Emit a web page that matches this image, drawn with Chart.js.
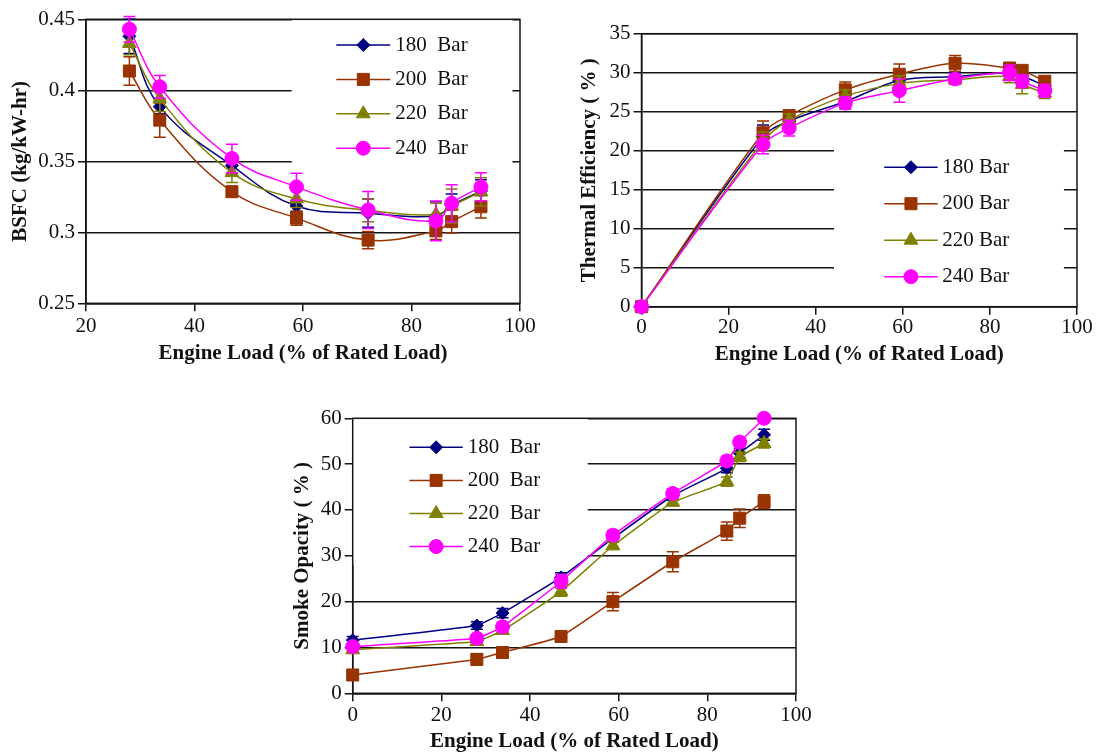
<!DOCTYPE html>
<html><head><meta charset="utf-8">
<script src="https://cdn.jsdelivr.net/npm/chart.js"></script>
<style>
html,body{margin:0;padding:0;background:#fff;}
#wrap{position:relative;width:1101px;height:756px;overflow:hidden;background:#fff;}
canvas{position:absolute;}
</style></head><body>
<div id="wrap">
<canvas id="c1" width="550" height="370" style="left:0px;top:0px;width:550px;height:370px"></canvas>
<canvas id="c2" width="541" height="370" style="left:560px;top:0px;width:541px;height:370px"></canvas>
<canvas id="c3" width="541" height="361" style="left:280px;top:395px;width:541px;height:361px"></canvas>
</div>
<script>
// ---------- DATA ----------
const seriesNames = ['180 Bar', '200 Bar', '220 Bar', '240 Bar'];
const legendWide = ['180  Bar', '200  Bar', '220  Bar', '240  Bar'];
const legendNarrow = ['180 Bar', '200 Bar', '220 Bar', '240 Bar'];

// BSFC
const loadBSFC = [28.0, 33.6, 46.9, 58.8, 72.0, 84.5, 87.4, 92.8];
const bsfc180 = [0.438, 0.3885, 0.347, 0.3185, 0.3135, 0.3115, 0.319, 0.329];
const bsfc200 = [0.4136, 0.379, 0.3286, 0.310, 0.2945, 0.301, 0.3075, 0.318];
const bsfc220 = [0.433, 0.394, 0.342, 0.3235, 0.3155, 0.3125, 0.3185, 0.3285];
const bsfc240 = [0.443, 0.4025, 0.352, 0.332, 0.3157, 0.308, 0.3204, 0.332];
const bsfcErr180 = [0.012, 0.005, 0.006, 0.004, 0.010, 0.010, 0.008, 0.008];
const bsfcErr200 = [0.010, 0.012, 0.003, 0.005, 0.006, 0.006, 0.008, 0.008];
const bsfcErr220 = [0.008, 0.009, 0.007, 0.006, 0.008, 0.008, 0.012, 0.010];
const bsfcErr240 = [0.009, 0.008, 0.010, 0.0095, 0.013, 0.014, 0.013, 0.010];
const bsfcXTicks = [20, 40, 60, 80, 100];
const bsfcYTicks = [0.25, 0.3, 0.35, 0.4, 0.45];

// Thermal efficiency
const loadTE = [0, 27.9, 33.9, 46.8, 59.2, 72.0, 84.5, 87.4, 92.6];
const te180 = [0, 21.8, 23.8, 26.3, 29.0, 29.5, 30.0, 29.6, 28.3];
const te200 = [0, 22.3, 24.5, 27.8, 29.8, 31.2, 30.6, 30.3, 28.9];
const te220 = [0, 21.2, 23.9, 27.0, 28.6, 29.1, 29.5, 28.5, 27.4];
const te240 = [0, 20.8, 22.9, 26.1, 27.7, 29.2, 30.0, 28.9, 27.7];
const teErr180 = [0, 1.5, 0.5, 0.8, 0.5, 0.5, 0.5, 0.5, 0.5];
const teErr200 = [0, 1.5, 0.5, 1.0, 1.3, 1.0, 0.5, 0.5, 0.5];
const teErr220 = [0, 1.2, 0.8, 0.8, 1.0, 0.6, 0.8, 1.2, 0.7];
const teErr240 = [0, 1.2, 1.0, 0.8, 1.5, 0.6, 1.0, 0.8, 0.8];
const teXTicks = [0, 20, 40, 60, 80, 100];
const teYTicks = [0, 5, 10, 15, 20, 25, 30, 35];

// Smoke opacity
const loadSO = [0, 28.0, 33.8, 47.0, 58.7, 72.2, 84.4, 87.3, 92.8];
const so180 = [11.6, 14.8, 17.5, 25.3, 33.8, 43.1, 49.1, 52.4, 56.4];
const so200 = [4.0, 7.4, 8.9, 12.4, 20.0, 28.7, 35.4, 38.2, 41.8];
const so220 = [9.5, 11.3, 13.7, 22.2, 32.2, 41.7, 46.2, 51.6, 54.5];
const so240 = [10.2, 12.0, 14.5, 24.4, 34.5, 43.6, 50.7, 54.8, 60.0];
const soErr180 = [0.8, 0.8, 1.0, 1.0, 0.8, 1.0, 1.0, 1.0, 1.2];
const soErr200 = [1.0, 1.2, 1.0, 0.8, 2.0, 2.2, 2.0, 2.0, 1.5];
const soErr220 = [0.6, 0.6, 0.6, 1.0, 0.8, 0.8, 1.0, 1.0, 1.0];
const soErr240 = [0.6, 0.8, 1.0, 1.5, 1.0, 1.0, 1.0, 1.0, 0.6];
const soXTicks = [0, 20, 40, 60, 80, 100];
const soYTicks = [0, 10, 20, 30, 40, 50, 60];

// ---------- STYLE ----------
const AX = '#141414';
const styles = [
  {color: '#000080', point: 'rectRot', r: 6.5},
  {color: '#993300', point: 'rect', r: 8.5},
  {color: '#808000', point: 'triangle', r: 8},
  {color: '#ff00ff', point: 'circle', r: 7}
];
Chart.defaults.font.family = '"Liberation Serif", "Times New Roman", serif';
Chart.defaults.font.size = 21;
Chart.defaults.color = '#111';

function buildDatasets(load, series, errs, tension) {
  return series.map((vals, i) => ({
    label: seriesNames[i],
    data: vals.map((v, j) => ({x: load[j], y: v})),
    errors: errs[i],
    borderColor: styles[i].color,
    backgroundColor: styles[i].color,
    pointBackgroundColor: styles[i].color,
    pointBorderColor: styles[i].color,
    pointStyle: styles[i].point,
    pointRadius: styles[i].r,
    pointHoverRadius: styles[i].r,
    pointBorderWidth: 1,
    borderWidth: 1.5,
    tension: tension,
    clip: false,
    order: 3 - i
  }));
}

function drawMarker(ctx, style, x, y, r, color) {
  ctx.save();
  ctx.fillStyle = color; ctx.strokeStyle = color; ctx.lineWidth = 1;
  ctx.beginPath();
  if (style === 'circle') {
    ctx.arc(x, y, r, 0, Math.PI * 2);
  } else if (style === 'rect') {
    const s = Math.SQRT1_2 * r;
    ctx.rect(x - s, y - s, 2 * s, 2 * s);
  } else if (style === 'rectRot') {
    ctx.moveTo(x - r, y); ctx.lineTo(x, y - r); ctx.lineTo(x + r, y); ctx.lineTo(x, y + r); ctx.closePath();
  } else if (style === 'triangle') {
    const w = Math.sin(Math.PI * 2 / 3) * r;
    ctx.moveTo(x, y - r); ctx.lineTo(x + w, y + r / 2); ctx.lineTo(x - w, y + r / 2); ctx.closePath();
  }
  ctx.fill(); ctx.stroke();
  ctx.restore();
}

function makePlugin(cfg) {
  return {
    id: 'deco',
    beforeDatasetsDraw(chart) {
      const a = chart.chartArea, ctx = chart.ctx, b = cfg.box;
      ctx.save();
      ctx.fillStyle = '#fff';
      ctx.fillRect(a.left + b[0], a.top + b[1], b[2] - b[0], b[3] - b[1]);
      ctx.strokeStyle = AX; ctx.lineWidth = 1.5;
      ctx.strokeRect(a.left, a.top, a.right - a.left, a.bottom - a.top);
      ctx.restore();
    },
    beforeDatasetDraw(chart, args) {
      const ds = chart.data.datasets[args.index];
      const xs = chart.scales.x, ys = chart.scales.y, ctx = chart.ctx;
      ctx.save();
      ctx.strokeStyle = ds.borderColor; ctx.lineWidth = 1.5;
      ds.data.forEach((p, j) => {
        const e = ds.errors[j];
        if (!e) return;
        const x = xs.getPixelForValue(p.x);
        const yt = ys.getPixelForValue(p.y + e), yb = ys.getPixelForValue(p.y - e);
        ctx.beginPath();
        ctx.moveTo(x, yt); ctx.lineTo(x, yb);
        ctx.moveTo(x - 6, yt); ctx.lineTo(x + 6, yt);
        ctx.moveTo(x - 6, yb); ctx.lineTo(x + 6, yb);
        ctx.stroke();
      });
      ctx.restore();
    },
    afterDatasetsDraw(chart) {
      const a = chart.chartArea, ctx = chart.ctx, L = cfg.legend;
      ctx.save();
      chart.data.datasets.forEach((ds, i) => {
        const y = a.top + L.y + i * L.dy;
        const x0 = a.left + L.x, x1 = x0 + L.len;
        ctx.strokeStyle = ds.borderColor; ctx.lineWidth = 1.5;
        ctx.beginPath(); ctx.moveTo(x0, y); ctx.lineTo(x1, y); ctx.stroke();
        drawMarker(ctx, ds.pointStyle, (x0 + x1) / 2, y, ds.pointRadius, ds.borderColor);
        ctx.fillStyle = '#111';
        ctx.font = '21px "Liberation Serif", "Times New Roman", serif';
        ctx.textBaseline = 'middle'; ctx.textAlign = 'left';
        ctx.fillText(cfg.labels[i], x1 + L.gap, y);
      });
      ctx.restore();
    }
  };
}

function makeChart(id, datasets, xTicks, yTicks, yTitle, g, deco) {
  return new Chart(document.getElementById(id), {
    type: 'line',
    data: {datasets},
    plugins: [makePlugin(deco)],
    options: {
      responsive: false, animation: false, devicePixelRatio: 1,
      layout: {padding: {left: 0, right: g.pr, top: g.pt, bottom: 0}},
      plugins: {legend: {display: false}, tooltip: {enabled: false}},
      scales: {
        x: {
          type: 'linear', min: xTicks[0], max: xTicks[xTicks.length - 1],
          afterBuildTicks: s => { s.ticks = xTicks.map(v => ({value: v})); },
          afterFit: s => { s.height = g.xh; },
          grid: {drawOnChartArea: false, drawTicks: true, tickLength: 8, color: AX, lineWidth: 1.5},
          border: {display: true, color: AX, width: 1.5},
          ticks: {padding: g.xtp, maxRotation: 0, autoSkip: false, color: '#111', callback: v => String(v)},
          title: {display: true, text: 'Engine Load (% of Rated Load)', color: '#111',
                  font: {size: 21, weight: 'bold'}, padding: {top: 0, bottom: g.xtb}}
        },
        y: {
          type: 'linear', min: yTicks[0], max: yTicks[yTicks.length - 1],
          afterBuildTicks: s => { s.ticks = yTicks.map(v => ({value: v})); },
          afterFit: s => { s.width = g.yw; },
          grid: {drawOnChartArea: true, drawTicks: true, tickLength: 8, color: AX, lineWidth: 1.5},
          border: {display: true, color: AX, width: 1.5},
          ticks: {padding: 3, autoSkip: false, color: '#111', callback: v => String(v)},
          title: {display: true, text: yTitle, color: '#111',
                  font: {size: 21, weight: 'bold'}, padding: {top: g.ytp, bottom: 0}}
        }
      }
    }
  });
}

makeChart('c1',
  buildDatasets(loadBSFC, [bsfc180, bsfc200, bsfc220, bsfc240], [bsfcErr180, bsfcErr200, bsfcErr220, bsfcErr240], 0.4),
  bsfcXTicks, bsfcYTicks, 'BSFC (kg/kW-hr)',
  {pr: 30, pt: 19.3, xh: 66.7, yw: 86, xtp: 2.4, xtb: 3.4, ytp: 8.4},
  {box: [205.7, 0, 426.4, 144], legend: {x: 250.3, y: 25.7, dy: 34.4, len: 54, gap: 5}, labels: legendWide});

makeChart('c2',
  buildDatasets(loadTE, [te180, te200, te220, te240], [teErr180, teErr200, teErr220, teErr240], 0.35),
  teXTicks, teYTicks, 'Thermal Efficiency ( % )',
  {pr: 24, pt: 33.7, xh: 63.3, yw: 81.5, xtp: 0, xtb: 2.6, ytp: 16.9},
  {box: [192.5, 106, 422.4, 264], legend: {x: 242.7, y: 133.5, dy: 36.5, len: 53.5, gap: 4.5}, labels: legendNarrow});

makeChart('c3',
  buildDatasets(loadSO, [so180, so200, so220, so240], [soErr180, soErr200, soErr220, soErr240], 0.1),
  soXTicks, soYTicks, 'Smoke Opacity ( % )',
  {pr: 25, pt: 23.3, xh: 62.7, yw: 72.7, xtp: 1.4, xtb: 1.8, ytp: 10.2},
  {box: [0, 0, 235, 147], legend: {x: 56.8, y: 29, dy: 33.1, len: 53.3, gap: 5}, labels: legendWide});
</script>
</body></html>
